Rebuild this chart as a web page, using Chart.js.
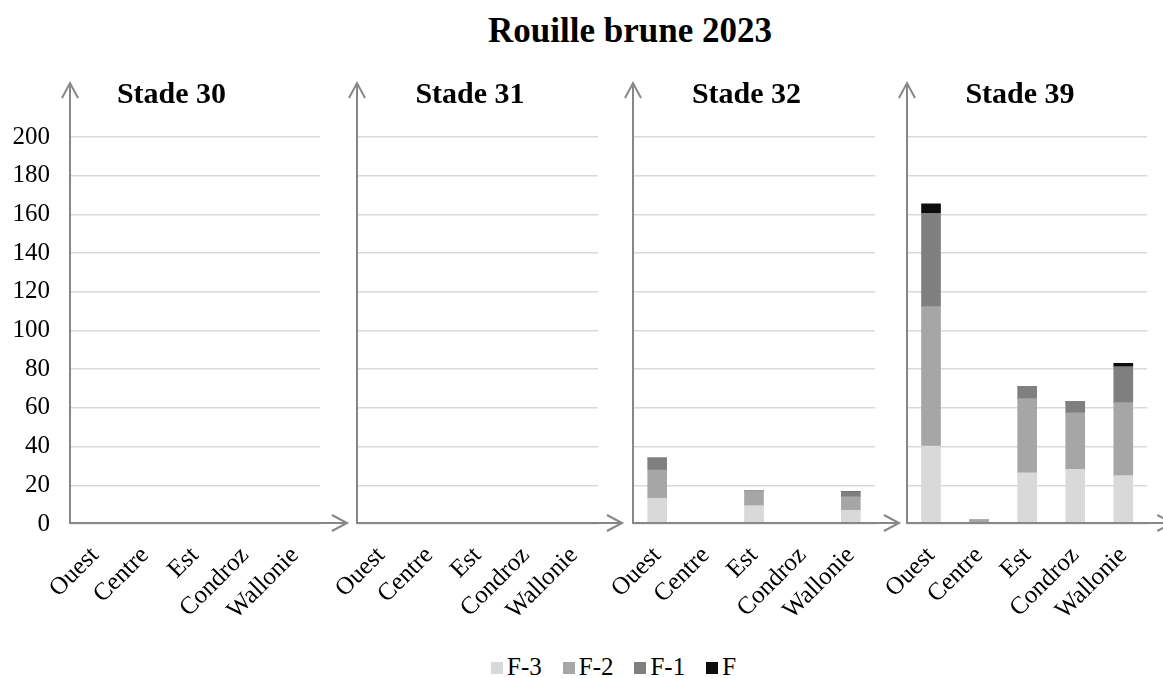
<!DOCTYPE html>
<html>
<head>
<meta charset="utf-8">
<script src="https://cdn.jsdelivr.net/npm/chart.js@4/dist/chart.umd.min.js"></script>
<style>
  html, body { margin: 0; padding: 0; background: #fff; }
  #wrap { position: relative; width: 1163px; height: 678px; background: #fff; overflow: hidden; }
  #wrap canvas { position: absolute; top: 0; }
  #title {
    position: absolute; left: 330px; width: 600px; top: 13px;
    text-align: center; font: bold 35px "Liberation Serif", "Times New Roman", serif;
    line-height: 35px; color: #000; white-space: nowrap;
  }
  #legend {
    position: absolute; left: 491px; top: 654px; display: flex; align-items: center;
    font: 25px "Liberation Serif", "Times New Roman", serif; color: #000; line-height: 26px;
  }
  #legend .item { display: flex; align-items: center; margin-right: 21px; }
  #legend .box { width: 12px; height: 12px; margin-right: 4px; margin-top: 2px; }
</style>
</head>
<body>
<div id="wrap">
  <div id="title">Rouille brune 2023</div>
  <div id="legend"></div>
</div>
<script>
// Regions on the x axis of every panel
const categories = ['Ouest', 'Centre', 'Est', 'Condroz', 'Wallonie'];
// Growth stages, one panel each
const stages = ['Stade 30', 'Stade 31', 'Stade 32', 'Stade 39'];
// Leaf layers, stacked from the bottom
const seriesNames = ['F-3', 'F-2', 'F-1', 'F'];
const seriesColors = ['#d9d9d9', '#a6a6a6', '#7f7f7f', '#0d0d0d'];

// Values per stage (rows) and region (columns), for each leaf layer
const F3 = [
  [0, 0, 0, 0, 0],
  [0, 0, 0, 0.4, 0],
  [13.3, 0, 9.5, 0.6, 7.1],
  [40.3, 0.3, 26.5, 28.3, 25]
];
const F2 = [
  [0, 0, 0, 0, 0],
  [0, 0, 0, 0, 0],
  [14.6, 0, 7.6, 0, 7],
  [72, 1.7, 38.3, 29.2, 37.7]
];
const F1 = [
  [0, 0, 0, 0, 0],
  [0, 0, 0, 0, 0],
  [6.2, 0, 0, 0, 2.6],
  [48.3, 0, 6.4, 5.7, 18.6]
];
const F0 = [
  [0, 0, 0, 0, 0],
  [0, 0, 0, 0, 0],
  [0, 0, 0, 0, 0],
  [4.8, 0, 0, 0, 1.7]
];
const seriesValues = [F3, F2, F1, F0];

// Y axis range and tick labels
const yMin = 0, yMax = 200, yStep = 20;

// Panel placement on the page
const panels = [
  { left: 0,   width: 350, axisW: 70, padRight: 30, titleDx: 101.5, arrowExt: 27, showTicks: true },
  { left: 297, width: 330, axisW: 60, padRight: 29, titleDx: 113,   arrowExt: 24, showTicks: false },
  { left: 573, width: 330, axisW: 60, padRight: 28, titleDx: 113.5, arrowExt: 24, showTicks: false },
  { left: 847, width: 316, axisW: 60, padRight: 15, titleDx: 113,   arrowExt: 25, showTicks: false }
];

const FONT = '"Liberation Serif", "Times New Roman", serif';
const AXIS_COLOR = '#878787';

// Axis lines with open arrowheads, drawn over the bars
const axisArrows = {
  id: 'axisArrows',
  afterDatasetsDraw(chart, args, opts) {
    const { ctx, chartArea: { left, right, top, bottom } } = chart;
    const yTip = top - 54;
    const xTip = right + opts.ext;
    const y0 = bottom - 1;
    ctx.save();
    ctx.strokeStyle = AXIS_COLOR;
    ctx.lineWidth = 2;
    ctx.lineCap = 'butt';
    ctx.beginPath();
    ctx.moveTo(left, bottom);
    ctx.lineTo(left, yTip);
    ctx.moveTo(left - 8, yTip + 15);
    ctx.lineTo(left, yTip);
    ctx.lineTo(left + 8, yTip + 15);
    ctx.moveTo(left - 1, y0);
    ctx.lineTo(xTip, y0);
    ctx.moveTo(xTip - 15, y0 - 8);
    ctx.lineTo(xTip, y0);
    ctx.lineTo(xTip - 15, y0 + 8);
    ctx.stroke();
    ctx.restore();
  }
};

// Stage name above each panel
const panelTitle = {
  id: 'panelTitle',
  afterDraw(chart, args, opts) {
    const { ctx, chartArea } = chart;
    ctx.save();
    ctx.font = 'bold 30px ' + FONT;
    ctx.fillStyle = '#000';
    ctx.textAlign = 'center';
    ctx.textBaseline = 'alphabetic';
    ctx.fillText(opts.text, chartArea.left + opts.dx, 103);
    ctx.restore();
  }
};

const wrap = document.getElementById('wrap');

stages.forEach((stage, s) => {
  const p = panels[s];
  const canvas = document.createElement('canvas');
  canvas.width = p.width;
  canvas.height = 620;
  canvas.style.left = p.left + 'px';
  canvas.style.width = p.width + 'px';
  canvas.style.height = '620px';
  wrap.appendChild(canvas);

  const datasets = seriesNames.map((name, k) => ({
    label: name,
    data: seriesValues[k][s],
    backgroundColor: seriesColors[k],
    borderWidth: 0,
    barThickness: 19
  }));

  new Chart(canvas, {
    type: 'bar',
    data: { labels: categories, datasets },
    plugins: [axisArrows, panelTitle],
    options: {
      responsive: false,
      animation: false,
      devicePixelRatio: 1,
      layout: { padding: { top: 137, right: p.padRight, bottom: 0, left: 0 } },
      plugins: {
        legend: { display: false },
        tooltip: { enabled: false },
        title: { display: false },
        axisArrows: { ext: p.arrowExt },
        panelTitle: { text: stage, dx: p.titleDx }
      },
      scales: {
        x: {
          stacked: true,
          grid: { display: false, drawTicks: false },
          border: { display: false },
          ticks: {
            autoSkip: false,
            minRotation: 45,
            maxRotation: 45,
            padding: 17,
            color: '#000',
            font: { family: FONT, size: 25 }
          },
          afterFit(scale) { scale.height = 96; }
        },
        y: {
          stacked: true,
          min: yMin,
          max: yMax,
          grid: { color: '#d9d9d9', lineWidth: 1.5, drawTicks: false },
          border: { display: false },
          ticks: {
            display: p.showTicks,
            stepSize: yStep,
            padding: 20,
            color: '#000',
            font: { family: FONT, size: 25 }
          },
          afterFit(scale) { scale.width = p.axisW; }
        }
      }
    }
  });
});

// Shared legend below the panels
const legend = document.getElementById('legend');
seriesNames.forEach((name, k) => {
  const item = document.createElement('div');
  item.className = 'item';
  const box = document.createElement('span');
  box.className = 'box';
  box.style.background = seriesColors[k];
  const label = document.createElement('span');
  label.textContent = name;
  item.appendChild(box);
  item.appendChild(label);
  legend.appendChild(item);
});
</script>
</body>
</html>
